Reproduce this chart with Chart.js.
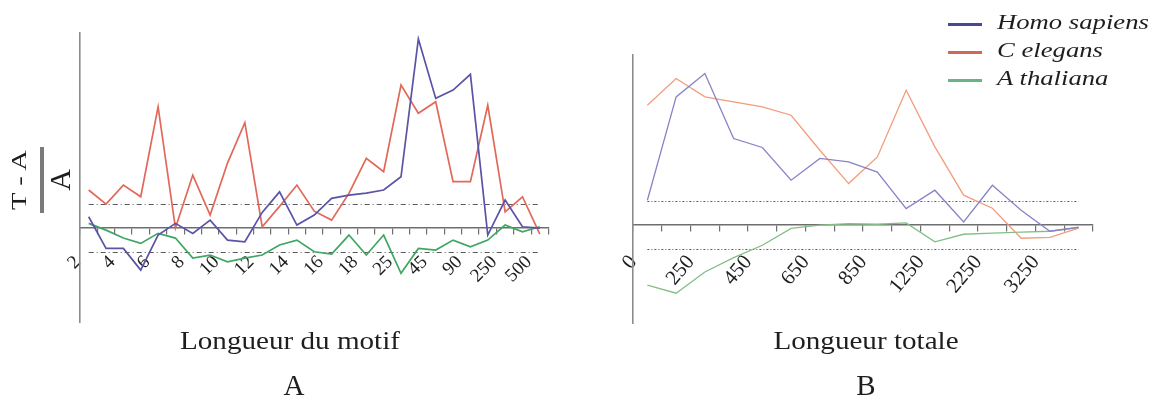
<!DOCTYPE html>
<html>
<head>
<meta charset="utf-8">
<script src="https://cdn.jsdelivr.net/npm/chart.js@4.4.0/dist/chart.umd.min.js"></script>
<style>
  html, body { margin: 0; padding: 0; background: #fff; }
  #stage { position: relative; width: 1154px; height: 406px; overflow: hidden;
           font-family: "Liberation Serif", "Times New Roman", serif; color: #1e1e1e; }
  #stage canvas { position: absolute; left: 0; top: 0; }
  .txt { position: absolute; white-space: nowrap; line-height: 1; }
  .legend-row { position: absolute; left: 948px; height: 0; }
  .legend-row .swatch { position: absolute; left: 0; top: -1.5px; width: 34px; height: 3px; }
  .legend-row .name { position: absolute; left: 49px; top: -12px; font-style: italic; font-size: 21px;
                      line-height: 1; white-space: nowrap; transform: scaleX(1.27); transform-origin: 0 50%; }
  #ytitle { position: absolute; left: 41px; top: 180px; width: 70px; height: 60px;
            transform: translate(-50%, -50%) rotate(-90deg); }
  #ytitle .num { position: absolute; left: 0; right: 0; top: -1.7px; font-size: 21px; line-height: 1;
                 text-align: center; transform: scaleX(1.36); }
  #ytitle .bar { position: absolute; left: 2px; right: 2px; top: 29px; height: 4px; background: #7a7a7a; }
  #ytitle .den { position: absolute; left: 0; right: 0; top: 33.5px; font-size: 30px; line-height: 1; text-align: center; }
</style>
</head>
<body>
<div id="stage">
  <canvas id="motifChart" width="1154" height="406"></canvas>
  <canvas id="totaleChart" width="1154" height="406"></canvas>
  <div id="ytitle"><div class="num">T - A</div><div class="bar"></div><div class="den">A</div></div>
  <div class="txt" style="left:290px;top:341px;font-size:26px;transform:translate(-50%,-50%) scaleX(1.12);">Longueur du motif</div>
  <div class="txt" style="left:866px;top:341px;font-size:26px;transform:translate(-50%,-50%) scaleX(1.12);">Longueur totale</div>
  <div class="txt" style="left:294px;top:385px;font-size:29px;transform:translate(-50%,-50%);">A</div>
  <div class="txt" style="left:866px;top:385px;font-size:29px;transform:translate(-50%,-50%);">B</div>
  <div id="legend"></div>
</div>
<script>
// Species shown in both panels
const speciesNames = ['Homo sapiens', 'C elegans', 'A thaliana'];
const legendColors = ['#4a4894', '#cf6a5a', '#68b487'];
const motifColors  = ['#5a54a6', '#e2685a', '#3fa664'];
const totaleColors = ['#8783c6', '#f39c7c', '#84be86'];

// Panel A: (T - A) / A by motif length
const motifLabels = ['2', '', '4', '', '6', '', '8', '', '10', '', '12', '', '14', '', '16', '', '18', '',
                     '25', '', '45', '', '90', '', '250', '', '500'];
const motifHomo     = [0.094, -0.169, -0.169, -0.349, -0.058, 0.039, -0.044, 0.066, -0.1, -0.114, 0.13, 0.301,
                       0.025, 0.108, 0.247, 0.274, 0.29, 0.316, 0.426, 1.57, 1.077, 1.146, 1.277, -0.058, 0.233, 0.011, 0.0];
const motifElegans  = [0.316, 0.199, 0.357, 0.26, 1.007, 0.0, 0.44, 0.108, 0.54, 0.875, 0.011, 0.18,
                       0.357, 0.14, 0.066, 0.288, 0.579, 0.468, 1.188, 0.953, 1.049, 0.385, 0.385, 1.02, 0.135, 0.26, -0.05];
const motifThaliana = [0.039, -0.017, -0.083, -0.127, -0.044, -0.083, -0.25, -0.224, -0.28, -0.25, -0.224, -0.141,
                       -0.1, -0.197, -0.216, -0.058, -0.224, -0.058, -0.376, -0.169, -0.183, -0.1, -0.155, -0.1, 0.025, -0.031, 0.011];

// Panel B: (T - A) / A by total length
const totaleLabels = ['0', '', '250', '', '450', '', '650', '', '850', '', '1250', '', '2250', '', '3250', ''];
const totaleHomo     = [0.207, 1.063, 1.257, 0.718, 0.644, 0.373, 0.553, 0.525, 0.44, 0.138, 0.29, 0.027, 0.331, 0.124, -0.05, -0.017];
const totaleElegans  = [0.994, 1.215, 1.063, 1.022, 0.98, 0.911, 0.621, 0.345, 0.566, 1.118, 0.649, 0.249, 0.141, -0.108, -0.1, -0.025];
const totaleThaliana = [-0.497, -0.563, -0.387, -0.268, -0.166, -0.027, 0, 0.012, 0.008, 0.019, -0.138, -0.075, -0.066, -0.058, -0.05, -0.02];

// Dashed reference levels drawn across each panel
const bandLevels = [0.2, -0.2];

// Draws the dashed reference levels from the first to the last category
const refLines = {
  id: 'refLines',
  beforeDatasetsDraw(chart, args, opts) {
    const { ctx, scales: { x, y } } = chart;
    const x0 = x.getPixelForValue(0);
    const x1 = x.getPixelForValue(chart.data.labels.length - 1);
    ctx.save();
    ctx.strokeStyle = opts.color;
    ctx.lineWidth = opts.width;
    ctx.setLineDash(opts.dash);
    for (const v of opts.levels) {
      const py = Math.round(y.getPixelForValue(v)) + 0.5;
      ctx.beginPath();
      ctx.moveTo(x0, py);
      ctx.lineTo(x1, py);
      ctx.stroke();
    }
    ctx.restore();
  }
};

function lineSet(label, data, color, width) {
  return { label, data, borderColor: color, backgroundColor: color, borderWidth: width,
           pointRadius: 0, tension: 0, fill: false };
}

function panelConfig(p) {
  return {
    type: 'line',
    data: {
      labels: p.labels,
      datasets: [
        lineSet(speciesNames[0], p.series[0], p.colors[0], p.lineWidth),
        lineSet(speciesNames[1], p.series[1], p.colors[1], p.lineWidth),
        lineSet(speciesNames[2], p.series[2], p.colors[2], p.lineWidth)
      ]
    },
    options: {
      responsive: false,
      animation: false,
      layout: { padding: p.padding },
      plugins: {
        legend: { display: false },
        tooltip: { enabled: false },
        refLines: { levels: bandLevels, color: '#5a5a5a', width: 1, dash: p.dash }
      },
      scales: {
        x: {
          type: 'category',
          offset: true,
          position: { y: 0 },
          grid: { offset: true, drawOnChartArea: false, drawTicks: true, tickLength: 6, color: '#707070', lineWidth: 1.2 },
          border: { display: true, color: '#6e6e6e', width: 1.6 },
          ticks: {
            autoSkip: false, minRotation: p.rotation, maxRotation: p.rotation,
            padding: p.tickPad, labelOffset: p.labelOffset,
            color: '#1e1e1e',
            font: { family: 'Liberation Serif', size: p.tickSize }
          }
        },
        y: {
          min: p.yMin, max: p.yMax,
          grid: { display: true, drawOnChartArea: false, drawTicks: false },
          border: { display: true, color: '#8c8c8c', width: 1.6 },
          ticks: { display: false },
          afterFit(scale) { scale.width = 0; }
        }
      }
    },
    plugins: [refLines]
  };
}

new Chart(document.getElementById('motifChart'), panelConfig({
  labels: motifLabels,
  series: [motifHomo, motifElegans, motifThaliana],
  colors: motifColors,
  lineWidth: 1.7,
  yMin: -0.78, yMax: 1.62,
  padding: { left: 80, top: 33, right: 1154 - 548.5, bottom: 406 - 322 },
  tickPad: 17, tickSize: 19, rotation: 45, labelOffset: -11,
  dash: [5, 3, 1, 3]
}));

new Chart(document.getElementById('totaleChart'), panelConfig({
  labels: totaleLabels,
  series: [totaleHomo, totaleElegans, totaleThaliana],
  colors: totaleColors,
  lineWidth: 1.3,
  yMin: -0.81, yMax: 1.41,
  padding: { left: 633, top: 55, right: 1154 - 1093, bottom: 406 - 323 },
  tickPad: 19, tickSize: 21, rotation: 50, labelOffset: -14,
  dash: [2, 2, 1, 2]
}));

// Legend rows built from the species list
const legend = document.getElementById('legend');
speciesNames.forEach((name, i) => {
  const row = document.createElement('div');
  row.className = 'legend-row';
  row.style.top = (24 + 28 * i) + 'px';
  row.innerHTML = '<div class="swatch" style="background:' + legendColors[i] + '"></div><div class="name"></div>';
  row.querySelector('.name').textContent = name;
  legend.appendChild(row);
});
</script>
</body>
</html>
